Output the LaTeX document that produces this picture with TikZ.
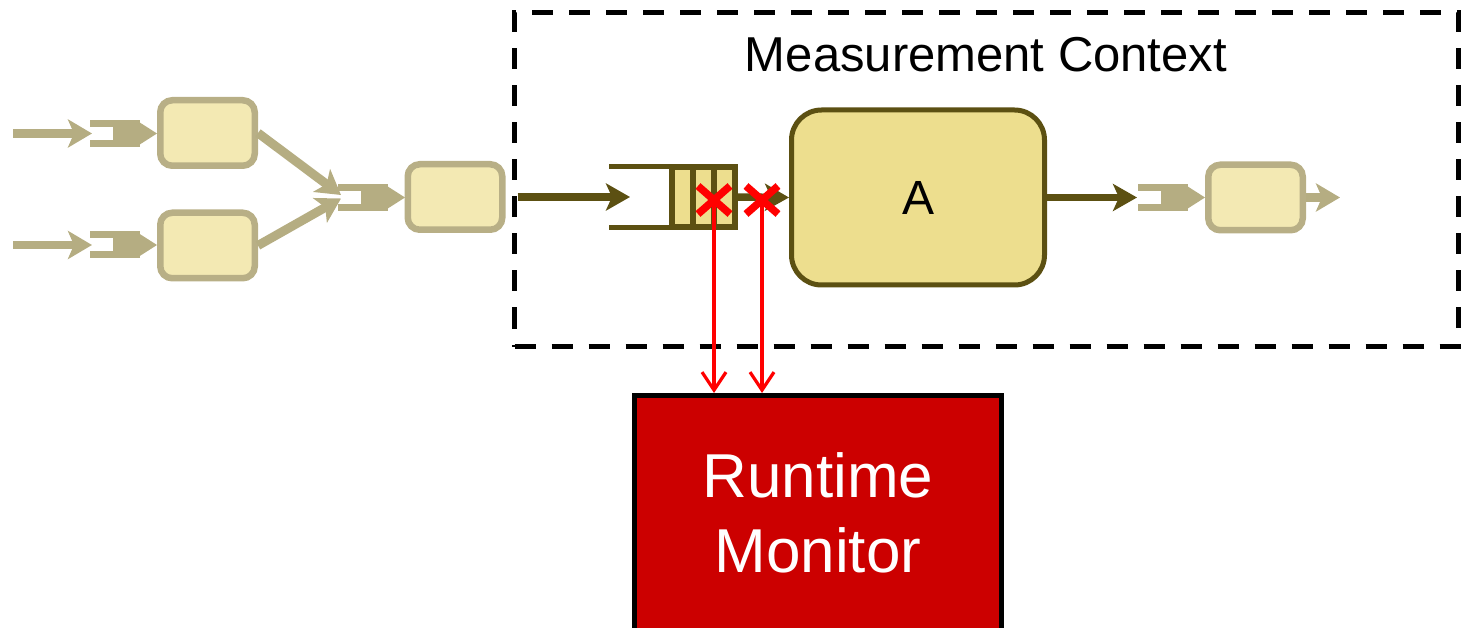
\documentclass[tikz,border=0pt]{standalone}
\usepackage{fontspec}
\setmainfont{Liberation Sans}
\usetikzlibrary{arrows.meta}
\definecolor{lightfill}{RGB}{243,233,179}
\definecolor{lightborder}{RGB}{184,175,134}
\definecolor{portcol}{RGB}{181,173,130}
\definecolor{darkolive}{RGB}{92,80,18}
\definecolor{afill}{RGB}{237,222,142}
\definecolor{monred}{RGB}{204,0,0}
\tikzset{
  portshape/.pic={
    \fill[portcol] (0,-13.5) rectangle (50,-6.5);
    \fill[portcol] (0,6.5) rectangle (50,13.5);
    \fill[portcol] (23,-13.5) rectangle (50,13.5);
    \fill[portcol] (49,-11.5) -- (67,0) -- (49,11.5) -- cycle;
  },
  redx/.pic={
    \draw[draw=red, line width=7.5pt] (-16,-14) -- (16,14) (-16,14) -- (16,-14);
  }
}
\begin{document}
\begin{tikzpicture}[x=1pt,y=-1pt,
  lightbox/.style={draw=lightborder, fill=lightfill, line width=6.5pt, rounded corners=12pt, minimum width=94.5pt, minimum height=65.5pt, inner sep=0pt},
  abox/.style={draw=darkolive, fill=afill, line width=5pt, rounded corners=30pt, minimum width=253pt, minimum height=175pt, inner sep=0pt, font=\fontsize{48}{58}\selectfont},
  context/.style={draw=black, line width=5pt, dash pattern=on 21pt off 16pt, minimum width=943.5pt, minimum height=334pt, inner sep=0pt},
  monitor/.style={draw=black, fill=monred, line width=5pt, minimum width=367pt, minimum height=250pt, inner sep=0pt},
  montext/.style={text=white, align=center, inner sep=0pt, font=\fontsize{62}{75}\selectfont},
  lightarrow/.style={draw=portcol, line width=8.5pt, -{Stealth[length=24pt,width=28pt,inset=6pt]}},
  darkarrow/.style={draw=darkolive, line width=7.5pt, -{Stealth[length=24pt,width=27pt,inset=6pt]}},
  redarrow/.style={draw=red, line width=3.2pt, -{Straight Barb[length=18pt,width=24pt]}},
  queueline/.style={draw=darkolive, line width=5pt},
  slot/.style={draw=darkolive, fill=afill, line width=6pt},
]
\useasboundingbox (0,0) rectangle (1464,628);

% measurement context
\node[context] (ctx) at (986.25,179.5) {};
\node[anchor=base, inner sep=0pt, font=\fontsize{49}{59}\selectfont] (ctxlabel) at (986,72) {Measurement Context};

% coordinates
\coordinate (in1) at (13,133.5);
\coordinate (in2) at (13,245);
\coordinate (p1in) at (92,133.5);
\coordinate (p2in) at (92,245);
\coordinate (mergein1) at (341,195);
\coordinate (mergein2) at (341,198.5);
\coordinate (qin) at (630,197);
\coordinate (qout) at (735,197);
\coordinate (rpin) at (1137,197.5);
\coordinate (outend) at (1340,197.5);
\coordinate (x1) at (714,200);
\coordinate (x2) at (762,200);

% boxes
\node[lightbox] (tl) at (207.5,133) {};
\node[lightbox] (bl) at (207.5,245.5) {};
\node[lightbox] (mid) at (455,197) {};
\node[lightbox] (rbox) at (1255.5,197.5) {};
\node[abox] (A) at (918,197.5) {A};
\node[monitor, anchor=north] (mon) at (818,393) {};
\node[montext] (monlabel) at (818,513) {Runtime\\Monitor};

% ports
\pic at (90,133.5) {portshape};
\pic at (90,245) {portshape};
\pic at (338,197.5) {portshape};
\pic at (1138,197.5) {portshape};

% left connectors
\draw[lightarrow] (in1) -- (p1in);
\draw[lightarrow] (in2) -- (p2in);
\draw[lightarrow, line width=9pt] (tl.east) -- (mergein1);
\draw[lightarrow, line width=9pt] (bl.east) -- (mergein2);
\draw[lightarrow] (rbox.east) -- (outend);

% queue
\draw[queueline] (609,167) -- (737,167);
\draw[queueline] (609,227.5) -- (737,227.5);
\draw[slot] (672,167) rectangle (692.5,227.5);
\draw[slot] (692.5,167) rectangle (713.5,227.5);
\draw[slot] (713.5,167) rectangle (735,227.5);

% dark connectors
\draw[darkarrow, shorten <=12pt] (mid.east) -- (qin);
\draw[darkarrow] (qout) -- (A.west);
\draw[darkarrow] (A.east) -- (rpin);

% red probes
\draw[redarrow] (x1) -- (x1 |- mon.north);
\draw[redarrow] (x2) -- (x2 |- mon.north);
\pic at (x1) {redx};
\pic at (x2) {redx};
\end{tikzpicture}
\end{document}
